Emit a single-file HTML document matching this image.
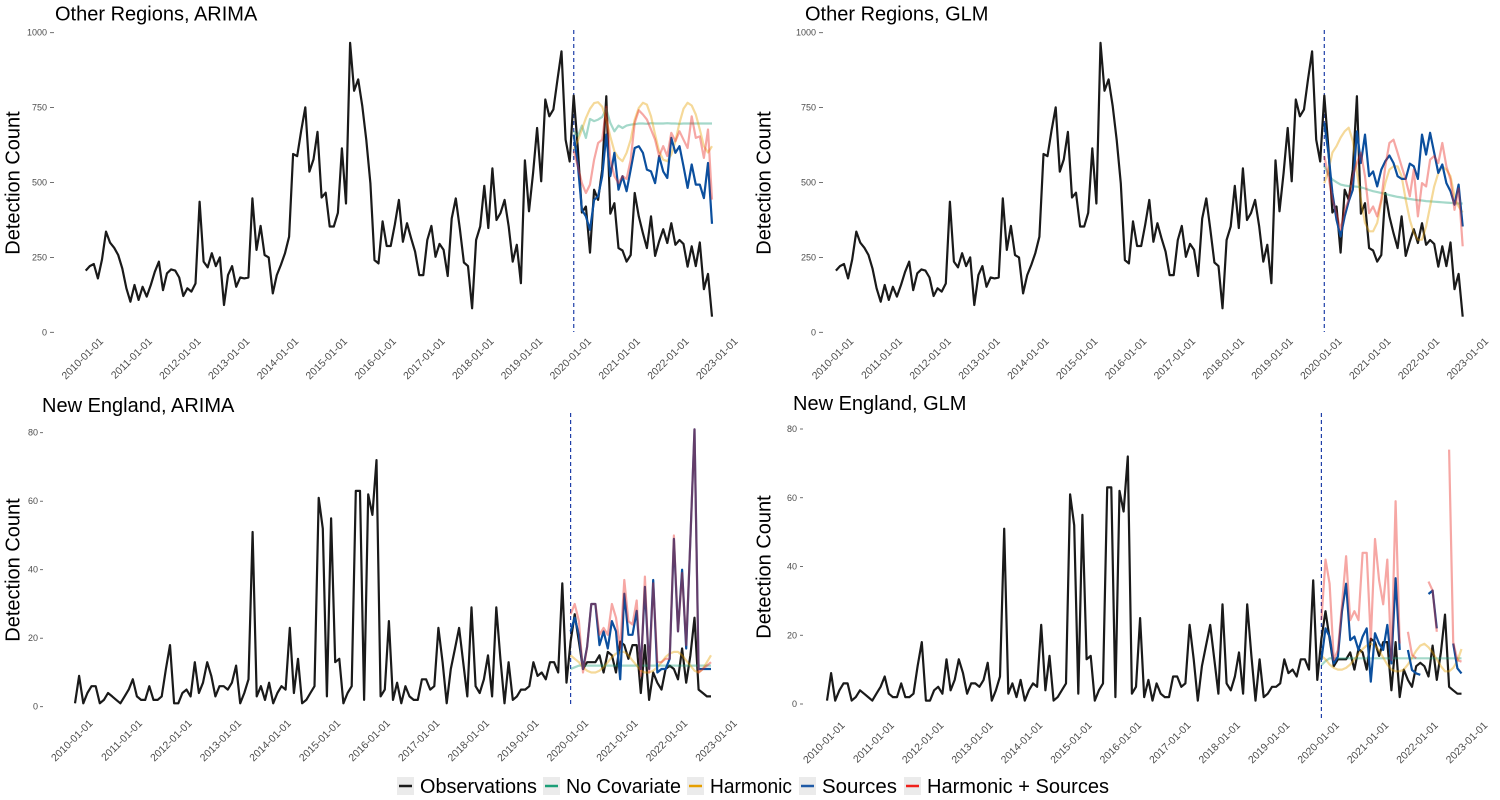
<!DOCTYPE html>
<html><head><meta charset="utf-8"><style>
html,body{margin:0;padding:0;background:#fff;}
svg{display:block;font-family:"Liberation Sans",sans-serif;}
</style></head><body>
<svg id="chart" width="1500" height="800" viewBox="0 0 1500 800" xmlns="http://www.w3.org/2000/svg"></svg>
<script>
const years = [2010,2011,2012,2013,2014,2015,2016,2017,2018,2019,2020,2021,2022,2023];
const obsOR = [206,221,228,180,243,336,299,282,258,213,147,102,158,108,152,119,158,202,236,141,197,210,206,183,121,147,136,163,436,236,217,264,221,250,91,191,221,152,183,180,183,447,275,355,258,250,130,191,225,264,319,595,588,675,751,536,577,669,450,466,353,353,399,614,430,966,806,844,755,642,497,241,230,
370,288,288,359,442,302,364,314,269,191,191,308,355,252,295,275,188,380,447,344,233,221,80,308,353,489,348,547,375,398,442,353,236,292,164,574,404,532,682,504,777,721,744,844,938,643,570,790,
615,400,420,266,476,442,543,788,396,431,281,273,236,258,465,387,331,281,387,255,303,344,298,364,292,308,295,219,287,221,300,144,195,52];
const obsNE = [1,9,1,4,6,6,1,2,4,3,2,1,3,5,8,3,2,2,6,2,2,3,11,18,1,1,4,5,3,13,4,7,13,9,3,6,6,5,7,12,1,4,8,51,3,6,2,7,1,4,6,5,23,4,14,1,2,4,6,61,52,3,55,13,14,1,4,6,63,63,2,62,56,72,
3,5,25,2,7,1,6,3,2,2,8,8,5,6,23,13,1,11,17,23,13,3,29,6,4,8,15,3,29,14,1,13,2,3,5,5,6,13,9,10,8,13,13,10,36,7,
19,27,19,11,13,13,13,15,10,16,15,10,19,18,14,18,18,4,18,2,10,7,5,11,12,11,8,17,7,15,26,5,4,3,3];
const forecastStart = 120;
// Other Regions ARIMA
const orArimaNoCov = [671,654,690,649,712,705,710,719,746,699,671,690,682,690,693,695,697,697,696,698,697,697,697,698,697,697,696,697,697,697,697,697,697,697,697];
const orArimaHarm = [610,640,677,715,746,765,768,753,710,654,604,582,571,599,643,710,749,766,760,721,660,604,576,571,593,638,699,746,766,757,727,677,621,600,621];
const orArimaSrc = [660,560,409,387,342,442,454,521,660,521,599,476,521,471,543,615,621,599,543,537,498,588,537,515,649,599,621,554,482,560,493,493,448,565,362];
const orArimaHS = [604,554,498,465,493,576,632,643,753,576,521,498,521,512,576,699,741,727,710,677,643,588,621,588,666,638,671,643,615,721,649,654,582,677,443];
// Other Regions GLM
const orGlmNoCov = [554,526,510,501,493,490,488,487,486,484,480,475,471,468,465,462,458,455,452,450,447,445,443,441,440,438,437,436,435,434,433,432,431,430,430];
const orGlmHarm = [498,540,600,621,650,671,683,639,537,443,365,337,337,365,437,498,543,554,554,521,443,376,331,309,309,353,420,487,532,554,543,521,454,420,400];
const orGlmSrc = [699,599,465,376,320,387,437,476,671,565,660,521,537,487,543,571,590,565,521,512,512,563,554,512,660,593,666,599,532,560,498,471,426,493,353];
const orGlmHS = [588,521,443,398,342,409,443,521,565,599,521,398,420,387,443,554,632,643,599,554,510,454,543,387,498,487,576,588,565,632,554,510,409,480,287];
// New England ARIMA
const neArimaNoCov = [11,11.5,12,12,12,12,12,12,12,12,12,12,12,12,12,12,12,12,12,12,12,12,12,12,12,12,12,12,12,12,12,12,12,12,12];
const neArimaHarm = [15,14,13,11.5,10.5,10,10,10.5,11.5,13,14.5,15.5,16,16,15,13.5,12,10.5,10,10,10.5,11.5,13,14.5,15.5,16,16,15,13.5,12,10.5,10,11,13,15];
const neArimaSrc = [22,26,21,11,17.5,30,30,18,22,17,25,22,8,33,21,21,28,11,35,11,37,10,11,11,14,49,22,40,17,49,81,11,11,11,11];
const neArimaHS = [27,30,25,10,17.5,30,30,21,23,21,30,26,17,37,25,24,31,9,38,10,36,13,13,14,14,50,22,39,18,49,81,10,11,12,13];
// New England GLM
const neGlmNoCov = [11.3,12.5,13.3,13.3,13.3,13.3,13.3,13.3,13.3,13.3,13.3,13.3,13.3,13.3,13.3,13.3,13.3,13.3,13.3,13.3,13.3,13.3,13.3,13.3,13.3,13.3,13.3,13.3,13.3,13.3,13.3,13.3,13.3,13.3,13.3];
const neGlmHarm = [14,13,11.5,10.5,10,10,10.5,11.5,13,14.5,16,17,17.5,17,15.5,13.5,11.5,10,9.5,9.5,10,11.5,13.5,15.5,17,17.5,16.5,15,13,11,9.5,9.5,10.5,12.5,16];
const neGlmSrc = [12.8,22,19.6,11.8,13.8,27,35,18.6,19.6,15.7,19.6,22,6.5,20.6,17.6,15.7,23,11.8,36.6,15.7,null,15.7,9.9,8.9,8.5,null,32,33,22,null,null,null,17.6,10.4,8.9];
const neGlmHS = [24.4,42,35,12.8,15.7,29,43,24.4,27,24.4,44,44,18.6,48,36,29,42,12.8,59,17.6,null,21,14.3,13.3,null,null,35.6,33,21,null,null,74,18,12.8,12.3];
const orTicks = [0,250,500,750,1000];
const neTicks = [0,20,40,60,80];

const NS = "http://www.w3.org/2000/svg";
const svg = document.getElementById('chart');
function mk(tag, attrs, parent){
  const e = document.createElementNS(NS, tag);
  for (const k in attrs) e.setAttribute(k, attrs[k]);
  (parent||svg).appendChild(e);
  return e;
}

const panels = [
  {key:'or-arima', title:'Other Regions, ARIMA', tx:55, ty:20.5, x0:85.7, dx:4.067, y0:332.3, ky:0.2996, ticks:orTicks, lblR:47, tk0:50, tk1:54, ax:14, ay:183, dTop:30, dBot:332, labY:342,
   obs:obsOR, f:[orArimaNoCov,orArimaHarm,orArimaSrc,orArimaHS]},
  {key:'or-glm', title:'Other Regions, GLM', tx:805, ty:20.5, x0:835.9, dx:4.07, y0:332.3, ky:0.2996, ticks:orTicks, lblR:816, tk0:819, tk1:823, ax:765, ay:183, dTop:30, dBot:332, labY:342,
   obs:obsOR, f:[orGlmNoCov,orGlmHarm,orGlmSrc,orGlmHS]},
  {key:'ne-arima', title:'New England, ARIMA', tx:42, ty:412, x0:75, dx:4.13, y0:706.7, ky:3.425, ticks:neTicks, lblR:38, tk0:40, tk1:43, ax:14, ay:570, dTop:413, dBot:707, labY:724,
   obs:obsNE, f:[neArimaNoCov,neArimaHarm,neArimaSrc,neArimaHS]},
  {key:'ne-glm', title:'New England, GLM', tx:793, ty:410, x0:827, dx:4.12, y0:704, ky:3.4375, ticks:neTicks, lblR:797, tk0:800, tk1:803, ax:765, ay:567, dTop:413, dBot:718, labY:726,
   obs:obsNE, f:[neGlmNoCov,neGlmHarm,neGlmSrc,neGlmHS]}
];
const fStyles = [
  {name:'no-covariate', color:'#1b9e77', op:0.4},
  {name:'harmonic', color:'#e69f00', op:0.4},
  {name:'sources', color:'#0b4f9e', op:1},
  {name:'harmonic-sources', color:'#e8221c', op:0.4}
];

function linePath(vals, startK, P){
  let d = '', pen = false;
  vals.forEach((v,i)=>{
    if (v === null || v === undefined){ pen = false; return; }
    const x = P.x0 + (startK+i)*P.dx, y = P.y0 - v*P.ky;
    d += (pen ? 'L' : 'M') + x.toFixed(1) + ' ' + y.toFixed(1);
    pen = true;
  });
  return d;
}

panels.forEach(P=>{
  const g = mk('g', {});
  
  
  const t = mk('text', {x:P.tx, y:P.ty, 'font-size':20, fill:'#000'}, g);
  t.textContent = P.title;
  
  
  const at = mk('text', {x:P.ax, y:P.ay, 'font-size':20, fill:'#000', 'text-anchor':'middle', transform:`rotate(-90 ${P.ax} ${P.ay})`, 'dominant-baseline':'middle'}, g);
  at.textContent = 'Detection Count';
  
  
  P.ticks.forEach(v=>{
    const y = P.y0 - v*P.ky;
    const l = mk('text', {x:P.lblR, y:y+3, 'font-size':9, fill:'#4d4d4d', 'text-anchor':'end'}, g);
    l.textContent = v;
    
    
    const tk = mk('line', {x1:P.tk0, x2:P.tk1, y1:y, y2:y, stroke:'#4d4d4d', 'stroke-width':0.8}, g);
    
    
  });
  years.forEach(yr=>{
    const x = P.x0 + (3 + 12*(yr-2010))*P.dx;
    const ax = x + 6, ay = P.labY;
    const l = mk('text', {x:ax, y:ay, 'font-size':10.5, fill:'#4d4d4d', 'text-anchor':'end', transform:`rotate(-45 ${ax} ${ay})`}, g);
    l.textContent = yr + '-01-01';
    
    
  });
  const dx = P.x0 + forecastStart*P.dx;
  const dl = mk('line', {x1:dx, x2:dx, y1:P.dTop, y2:P.dBot, stroke:'#1f3fa8', 'stroke-width':1.2, 'stroke-dasharray':'4 3'}, g);
  
  
  const ob = mk('path', {d:linePath(P.obs, 0, P), fill:'none', stroke:'#1a1a1a', 'stroke-width':2.2, 'stroke-linejoin':'round'}, g);
  
  
  P.f.forEach((arr, i)=>{
    const s = fStyles[i];
    const p = mk('path', {d:linePath(arr, forecastStart, P), fill:'none', stroke:s.color, 'stroke-opacity':s.op, 'stroke-width':2.2, 'stroke-linejoin':'round'}, g);
    
    
  });
});

// legend
const legItems = [
  {label:'Observations', color:'#1a1a1a', bx:397, w:117, name:'legend-observations'},
  {label:'No Covariate', color:'#1b9e77', bx:543, w:115, name:'legend-no-covariate'},
  {label:'Harmonic', color:'#e69f00', bx:687, w:82, name:'legend-harmonic'},
  {label:'Sources', color:'#1f5aa6', bx:799, w:75, name:'legend-sources'},
  {label:'Harmonic + Sources', color:'#f0201a', bx:904, w:182, name:'legend-harmonic-sources'}
];
const lg = mk('g', {});


legItems.forEach(it=>{
  const g = mk('g', {}, lg);
  
  
  mk('rect', {x:it.bx, y:777, width:17, height:18, fill:'#ebebeb'}, g);
  mk('line', {x1:it.bx+2, x2:it.bx+15, y1:786, y2:786, stroke:it.color, 'stroke-width':2.5}, g);
  const t = mk('text', {x:it.bx+23, y:793, 'font-size':20, fill:'#000', textLength:it.w, lengthAdjust:'spacingAndGlyphs'}, g);
  t.textContent = it.label;
});
</script>
</body></html>
